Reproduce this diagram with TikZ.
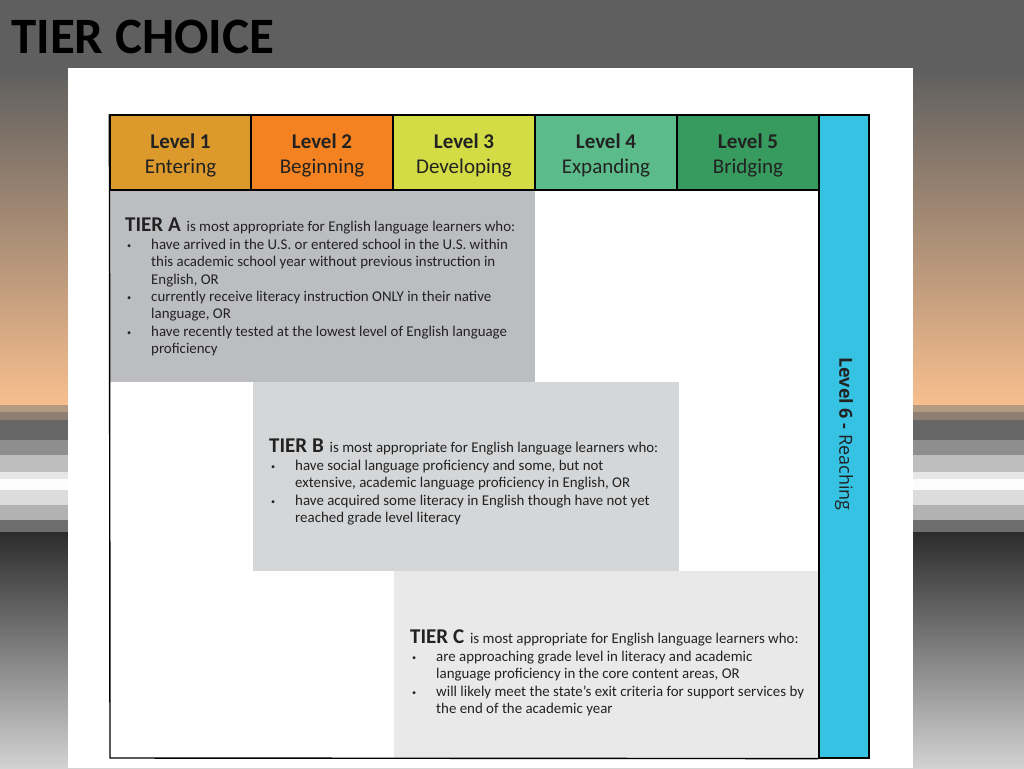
\documentclass[tikz,border=0pt]{standalone}
\usepackage{fontspec}
\setmainfont{Carlito}
\newfontfamily\osans{Open Sans}
\definecolor{topgray}{HTML}{5F5F5F}
\definecolor{peach}{HTML}{F8BF8E}
\definecolor{darkband}{HTML}{2C2C2C}
\definecolor{lightband}{HTML}{D2D2D2}
\definecolor{sA}{HTML}{B39A82}
\definecolor{sB}{HTML}{8E7F72}
\definecolor{sC}{HTML}{666666}
\definecolor{sD}{HTML}{8E8E8E}
\definecolor{sE}{HTML}{BEBEBE}
\definecolor{sF}{HTML}{E6E6E6}
\definecolor{sG}{HTML}{FCFCFC}
\definecolor{sH}{HTML}{DCDCDC}
\definecolor{sI}{HTML}{B2B2B2}
\definecolor{sJ}{HTML}{6E6E6E}
\definecolor{lvA}{HTML}{DC9A2D}
\definecolor{lvB}{HTML}{F58220}
\definecolor{lvC}{HTML}{D3DC44}
\definecolor{lvD}{HTML}{5CBB8A}
\definecolor{lvE}{HTML}{379A5E}
\definecolor{lvF}{HTML}{36C3E3}
\definecolor{tierA}{HTML}{BCBDC0}
\definecolor{tierB}{HTML}{D5D6D8}
\definecolor{tierC}{HTML}{E9E9EA}
\definecolor{txt}{HTML}{222222}
\newcommand\tbul{\makebox[26pt][l]{\hspace{2pt}\raisebox{1pt}{\scalebox{0.55}{\textbullet}}}}
\newcommand\tind{\hspace*{26pt}}
\tikzset{
  lvcell/.style={draw=black, line width=1.2pt, align=center, inner sep=0pt, text=txt,
    font=\fontsize{21}{25}\selectfont},
  tiertext/.style={anchor=north west, align=left, inner sep=0pt, text=txt,
    font=\fontsize{14.9}{17.4}\selectfont},
  frameline/.style={draw=black, line width=1.4pt}
}
\newcommand\ttitle[1]{{\fontsize{21}{17.4}\selectfont\bfseries #1}\hspace{2.5pt} }
\newcommand\lvtext[2]{\rule{0pt}{20pt}\textbf{#1}\\#2}
\begin{document}
\begin{tikzpicture}[x=1pt,y=-1pt]
\useasboundingbox (0,0) rectangle (1024,768);
% background
\fill[topgray] (0,0) rectangle (1024,68);
\shade[top color=topgray, bottom color=peach] (0,68) rectangle (1024,406);
\fill[sA] (0,405) rectangle (1024,412);
\fill[sB] (0,412) rectangle (1024,420);
\fill[sC] (0,420) rectangle (1024,440);
\fill[sD] (0,440) rectangle (1024,455);
\fill[sE] (0,455) rectangle (1024,472);
\fill[sF] (0,472) rectangle (1024,479);
\fill[sG] (0,479) rectangle (1024,490);
\fill[sH] (0,490) rectangle (1024,505);
\fill[sI] (0,505) rectangle (1024,520);
\fill[sJ] (0,520) rectangle (1024,532);
\shade[top color=darkband, bottom color=lightband] (0,532) rectangle (1024,768);
\node[anchor=base west, inner sep=0pt, font=\fontsize{51}{51}\selectfont\bfseries, text=black] (title) at (11,54) {TIER CHOICE};
% white panel
\fill[white] (68,68) rectangle (913,768);
% tier boxes
\fill[tierA] (110,190) rectangle (535,382);
\fill[tierB] (253,382) rectangle (679,571);
\fill[tierC] (394,571) rectangle (819,758);
% level header cells
\node[lvcell, fill=lvA, minimum width=141pt, minimum height=75pt] (l1) at (180.5,152.5) {\lvtext{Level 1}{Entering}};
\node[lvcell, fill=lvB, minimum width=142pt, minimum height=75pt] (l2) at (322,152.5) {\lvtext{Level 2}{Beginning}};
\node[lvcell, fill=lvC, minimum width=142pt, minimum height=75pt] (l3) at (464,152.5) {\lvtext{Level 3}{Developing}};
\node[lvcell, fill=lvD, minimum width=142pt, minimum height=75pt] (l4) at (606,152.5) {\lvtext{Level 4}{Expanding}};
\node[lvcell, fill=lvE, minimum width=142pt, minimum height=75pt] (l5) at (748,152.5) {\lvtext{Level 5}{Bridging}};
\node[lvcell, fill=lvF, minimum width=50pt, minimum height=643pt] (l6) at (844,436.5) {};
\node[rotate=-90, inner sep=0pt, text=txt, font=\osans\fontsize{18}{20}\selectfont] (l6t) at (844,434) {\textbf{Level 6 -} Reaching};
% outer frame
\draw[frameline] (l1.north west) -- (110,758) -- (l6.south west);
% tier texts
\node[tiertext] (ta) at (125,218) {\ttitle{TIER A}is most appropriate for English language learners who:\\
\tbul have arrived in the U.S. or entered school in the U.S. within\\
\tind this academic school year without previous instruction in\\
\tind English, OR\\
\tbul currently receive literacy instruction ONLY in their native\\
\tind language, OR\\
\tbul have recently tested at the lowest level of English language\\
\tind proficiency};
\node[tiertext] (tb) at (269,439) {\ttitle{TIER B}is most appropriate for English language learners who:\\
\tbul have social language proficiency and some, but not\\
\tind extensive, academic language proficiency in English, OR\\
\tbul have acquired some literacy in English though have not yet\\
\tind reached grade level literacy};
\node[tiertext] (tc) at (410,630) {\ttitle{TIER C}is most appropriate for English language learners who:\\
\tbul are approaching grade level in literacy and academic\\
\tind language proficiency in the core content areas, OR\\
\tbul will likely meet the state's exit criteria for support services by\\
\tind the end of the academic year};
\end{tikzpicture}
\end{document}
